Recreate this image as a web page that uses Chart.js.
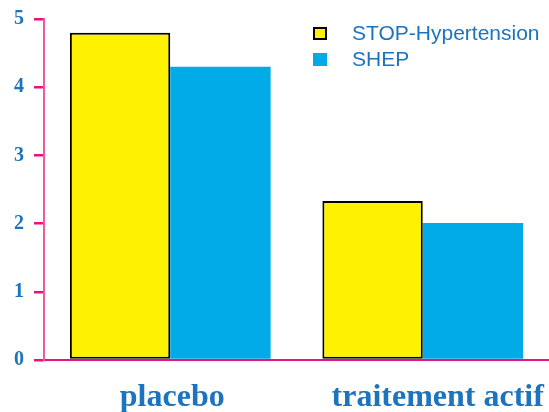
<!DOCTYPE html>
<html>
<head>
<meta charset="utf-8">
<script src="https://cdn.jsdelivr.net/npm/chart.js@4"></script>
<style>
  html, body { margin: 0; padding: 0; background: #fff; }
</style>
</head>
<body>
<canvas id="graf" width="549" height="412"></canvas>
<script>
// catégories et valeurs des deux essais
const categories = ['placebo', 'traitement actif'];
const stopHypertension = [4.8, 2.33];
const shep = [4.3, 2.01];
const yTickValues = [0, 1, 2, 3, 4, 5];

const bleuTexte = '#1b74bd';
const roseAxe = '#f0599f';
const roseTrait = '#e8137f';

// libellés des catégories sous l'axe, en gros caractères
const libellesX = {
    id: 'libellesX',
    afterDraw(chart) {
        const ctx = chart.ctx;
        const x = chart.scales.x;
        const decalage = [2, 15];
        ctx.save();
        ctx.font = 'bold 32px "Liberation Serif", "Times New Roman", serif';
        ctx.fillStyle = bleuTexte;
        ctx.textAlign = 'center';
        ctx.textBaseline = 'alphabetic';
        categories.forEach(function (cat, i) {
            ctx.fillText(cat, x.getPixelForValue(i) + decalage[i], 406);
        });
        ctx.restore();
    }
};

// légende dessinée à la main en haut à droite
const legende = {
    id: 'legende',
    afterDraw(chart) {
        const ctx = chart.ctx;
        ctx.save();
        ctx.font = '21px "Liberation Sans", Arial, sans-serif';
        ctx.textBaseline = 'alphabetic';
        chart.data.datasets.forEach(function (ds, i) {
            const y = 27 + i * 26;
            ctx.fillStyle = ds.backgroundColor;
            ctx.fillRect(313, y, 14, 13);
            if (ds.borderWidth) {
                ctx.strokeStyle = '#000';
                ctx.lineWidth = 2;
                ctx.strokeRect(314, y + 1, 12, 11);
            }
            ctx.fillStyle = bleuTexte;
            ctx.fillText(ds.label, 352, y + 13);
        });
        ctx.restore();
    }
};

new Chart(document.getElementById('graf'), {
    type: 'bar',
    data: {
        labels: categories,
        datasets: [{
            label: 'STOP-Hypertension',
            data: stopHypertension,
            backgroundColor: '#fff200',
            borderColor: '#000',
            borderWidth: 2,
            borderSkipped: false
        }, {
            label: 'SHEP',
            data: shep,
            backgroundColor: '#00abe8',
            borderWidth: 0
        }]
    },
    options: {
        responsive: false,
        animation: false,
        layout: { padding: { top: 19, right: 0, left: 0, bottom: 0 } },
        plugins: {
            legend: { display: false },
            tooltip: { enabled: false }
        },
        datasets: {
            bar: { categoryPercentage: 0.795, barPercentage: 1 }
        },
        scales: {
            x: {
                grid: { display: false, drawTicks: false },
                border: { display: true, color: roseTrait, width: 2 },
                ticks: { display: false },
                afterFit: function (scale) { scale.height = 52; }
            },
            y: {
                min: 0,
                max: 5,
                afterBuildTicks: function (scale) {
                    scale.ticks = yTickValues.map(v => ({ value: v }));
                },
                grid: {
                    drawOnChartArea: false,
                    drawTicks: true,
                    tickLength: 10,
                    color: roseTrait,
                    lineWidth: 2.5
                },
                border: { display: true, color: roseAxe, width: 2 },
                ticks: {
                    padding: 10,
                    color: bleuTexte,
                    font: { family: '"Liberation Serif", "Times New Roman", serif', size: 20, weight: 'bold' }
                },
                afterFit: function (scale) {
                    scale.width = 44;
                    scale.paddingTop = 0;
                    scale.paddingBottom = 0;
                }
            }
        }
    },
    plugins: [libellesX, legende]
});
</script>
</body>
</html>
